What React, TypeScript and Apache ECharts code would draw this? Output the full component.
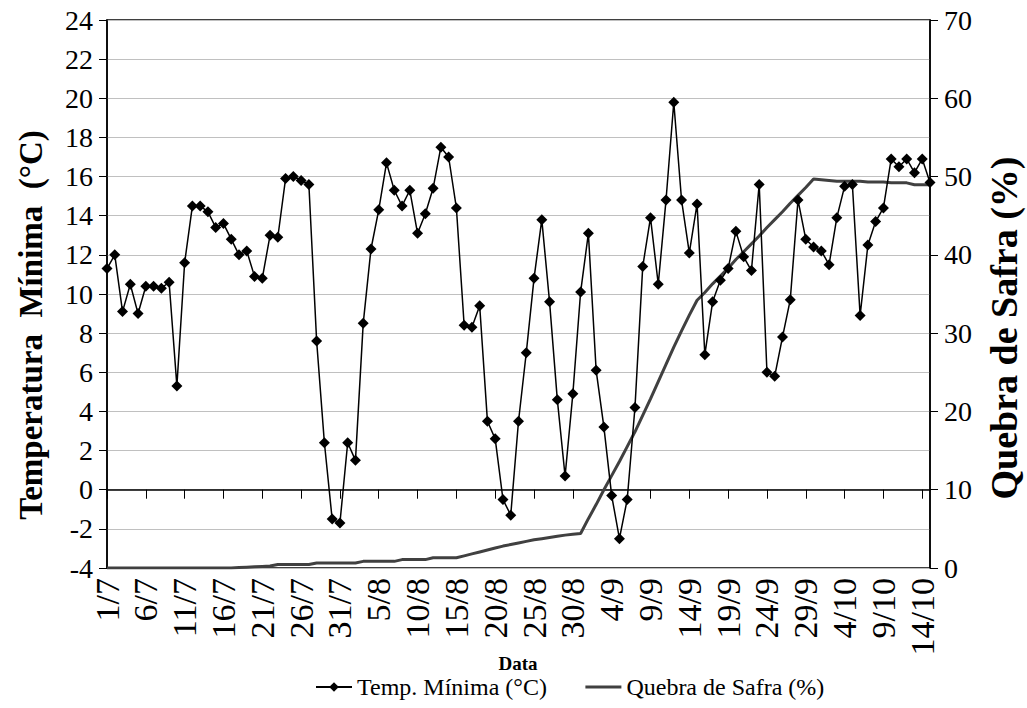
import React, { useEffect, useRef } from "react";
import * as echarts from "echarts";

const dates: string[] = [
  "1/7","2/7","3/7","4/7","5/7","6/7","7/7","8/7","9/7","10/7","11/7","12/7","13/7","14/7","15/7","16/7","17/7","18/7","19/7","20/7","21/7","22/7","23/7","24/7","25/7","26/7","27/7","28/7","29/7","30/7","31/7",
  "1/8","2/8","3/8","4/8","5/8","6/8","7/8","8/8","9/8","10/8","11/8","12/8","13/8","14/8","15/8","16/8","17/8","18/8","19/8","20/8","21/8","22/8","23/8","24/8","25/8","26/8","27/8","28/8","29/8","30/8","31/8",
  "1/9","2/9","3/9","4/9","5/9","6/9","7/9","8/9","9/9","10/9","11/9","12/9","13/9","14/9","15/9","16/9","17/9","18/9","19/9","20/9","21/9","22/9","23/9","24/9","25/9","26/9","27/9","28/9","29/9","30/9",
  "1/10","2/10","3/10","4/10","5/10","6/10","7/10","8/10","9/10","10/10","11/10","12/10","13/10","14/10","15/10",
];

const tempMin: number[] = [
  11.3, 12.0, 9.1, 10.5, 9.0, 10.4, 10.4, 10.3, 10.6, 5.3,
  11.6, 14.5, 14.5, 14.2, 13.4, 13.6, 12.8, 12.0, 12.2, 10.9,
  10.8, 13.0, 12.9, 15.9, 16.0, 15.8, 15.6, 7.6, 2.4, -1.5,
  -1.7, 2.4, 1.5, 8.5, 12.3, 14.3, 16.7, 15.3, 14.5, 15.3,
  13.1, 14.1, 15.4, 17.5, 17.0, 14.4, 8.4, 8.3, 9.4, 3.5,
  2.6, -0.5, -1.3, 3.5, 7.0, 10.8, 13.8, 9.6, 4.6, 0.7,
  4.9, 10.1, 13.1, 6.1, 3.2, -0.3, -2.5, -0.5, 4.2, 11.4,
  13.9, 10.5, 14.8, 19.8, 14.8, 12.1, 14.6, 6.9, 9.6, 10.7,
  11.3, 13.2, 11.9, 11.2, 15.6, 6.0, 5.8, 7.8, 9.7, 14.8,
  12.8, 12.4, 12.2, 11.5, 13.9, 15.5, 15.6, 8.9, 12.5, 13.7,
  14.4, 16.9, 16.5, 16.9, 16.2, 16.9, 15.7,
];

const quebraSafra: number[] = [
  0, 0, 0, 0, 0, 0, 0, 0, 0, 0,
  0, 0, 0, 0, 0, 0, 0, 0.05, 0.1, 0.15,
  0.2, 0.25, 0.45, 0.45, 0.45, 0.45, 0.45, 0.65, 0.65, 0.65,
  0.65, 0.65, 0.65, 0.85, 0.85, 0.85, 0.85, 0.85, 1.07, 1.07,
  1.07, 1.07, 1.3, 1.3, 1.3, 1.3, 1.55, 1.8, 2.05, 2.3,
  2.55, 2.8, 3.0, 3.2, 3.4, 3.6, 3.75, 3.9, 4.05, 4.2,
  4.3, 4.4, 6.3, 8.1, 10.0, 11.8, 13.6, 15.5, 17.4, 19.5,
  21.6, 23.8, 26.0, 28.2, 30.3, 32.3, 34.2, 35.2, 36.3, 37.3,
  38.3, 39.4, 40.4, 41.4, 42.4, 43.5, 44.5, 45.5, 46.6, 47.6,
  48.6, 49.7, 49.6, 49.5, 49.4, 49.4, 49.4, 49.4, 49.3, 49.3,
  49.3, 49.2, 49.2, 49.2, 48.95, 48.95, 48.95,
];

const leftTitle = "Temperatura  Mínima  (°C)";
const rightTitle = "Quebra de Safra (%)";
const xTitle = "Data";
const seriesNames = ["Temp. Mínima (°C)", "Quebra de Safra (%)"];

const FONT = "Liberation Serif";

export default function App() {
  const ref = useRef<HTMLDivElement>(null);
  useEffect(() => {
    document.body.style.margin = "0";
    const chart = echarts.init(ref.current!, null, { renderer: "svg" });
    chart.setOption({
      animation: false,
      backgroundColor: "#fff",
      textStyle: { fontFamily: FONT, color: "#000" },
      grid: {
        left: 107,
        right: 97,
        top: 20,
        bottom: 140,
        show: true,
        borderColor: "#000",
        borderWidth: 1.5,
      },
      graphic: [
        {
          type: "text",
          x: 31,
          y: 325,
          rotation: Math.PI / 2,
          style: {
            text: leftTitle,
            fontFamily: FONT,
            fontSize: 33,
            fontWeight: "bold",
            fill: "#000",
            align: "center",
            verticalAlign: "middle",
          },
        },
        {
          type: "text",
          x: 1004,
          y: 328,
          rotation: Math.PI / 2,
          style: {
            text: rightTitle,
            fontFamily: FONT,
            fontSize: 38,
            fontWeight: "bold",
            fill: "#000",
            align: "center",
            verticalAlign: "middle",
          },
        },
        {
          type: "text",
          x: 518,
          y: 663,
          style: {
            text: xTitle,
            fontFamily: FONT,
            fontSize: 19,
            fontWeight: "bold",
            fill: "#000",
            align: "center",
            verticalAlign: "middle",
          },
        },
      ],
      legend: {
        left: 310,
        bottom: 4,
        itemGap: 37,
        itemWidth: 36,
        itemHeight: 12,
        textStyle: { fontFamily: FONT, fontSize: 24, color: "#000" },
        data: [
          { name: seriesNames[0] },
          {
            name: seriesNames[1],
            itemStyle: { opacity: 0 },
            lineStyle: { width: 3, color: "#404040" },
          },
        ],
      },
      xAxis: {
        type: "category",
        data: dates,
        boundaryGap: false,
        axisLine: { lineStyle: { color: "#000", width: 1.5 } },
        axisTick: { interval: 4, length: 9, lineStyle: { color: "#000", width: 1 } },
        axisLabel: {
          interval: 4,
          rotate: 90,
          margin: 10,
          fontFamily: FONT,
          fontSize: 34,
          color: "#000",
        },
        splitLine: { show: false },
      },
      yAxis: [
        {
          type: "value",
          min: -4,
          max: 24,
          interval: 2,
          axisLine: { show: true, lineStyle: { color: "#000", width: 1.5 } },
          axisTick: { show: true, length: 8, lineStyle: { color: "#000" } },
          axisLabel: { fontFamily: FONT, fontSize: 28, color: "#000", margin: 14 },
          splitLine: { show: true, lineStyle: { color: "#c0c0c0", width: 1 } },
        },
        {
          type: "value",
          min: 0,
          max: 70,
          interval: 10,
          position: "right",
          axisLine: { show: true, lineStyle: { color: "#000", width: 1.5 } },
          axisTick: { show: true, length: 8, lineStyle: { color: "#000" } },
          axisLabel: { fontFamily: FONT, fontSize: 28, color: "#000", margin: 14 },
          splitLine: { show: false },
        },
      ],
      series: [
        {
          name: seriesNames[0],
          type: "line",
          yAxisIndex: 0,
          data: tempMin,
          symbol: "diamond",
          symbolSize: 11,
          showSymbol: true,
          showAllSymbol: true,
          color: "#000",
          itemStyle: { color: "#000" },
          lineStyle: { color: "#000", width: 1.5 },
          z: 3,
        },
        {
          name: seriesNames[1],
          type: "line",
          yAxisIndex: 1,
          data: quebraSafra,
          symbol: "none",
          color: "#404040",
          lineStyle: { color: "#404040", width: 3 },
          z: 2,
        },
      ],
    });
    return () => chart.dispose();
  }, []);
  return (
    <div
      ref={ref}
      style={{ position: "absolute", left: 0, top: 0, width: 1027, height: 708 }}
    />
  );
}
